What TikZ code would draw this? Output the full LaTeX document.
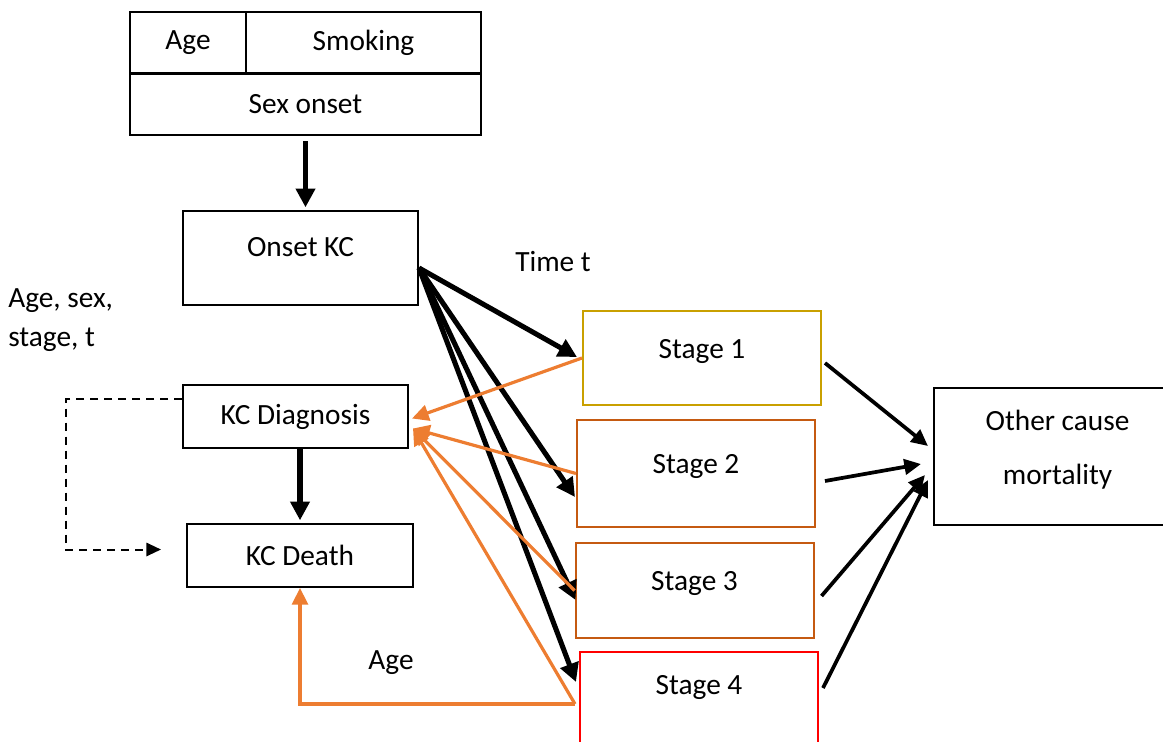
\documentclass[tikz,border=0pt]{standalone}
\usepackage{fontspec}
\setmainfont{Carlito}
\usetikzlibrary{arrows.meta, calc, positioning}
\definecolor{stagegold}{RGB}{201,160,0}
\definecolor{stagebrown}{RGB}{197,90,17}
\definecolor{arroworange}{RGB}{237,125,49}

\begin{document}
\begin{tikzpicture}
    [x=0.75pt, y=-0.75pt, font=\fontsize{22}{26.4}\selectfont,
    plainbox/.style={rectangle, draw=black, line width=1.5pt, inner sep=0pt, align=center},
    stagebox/.style={plainbox, minimum width=178.5pt, text height=15pt, text depth=15pt},
    bigarrow/.style={line width=3.8pt, -{Triangle[length=14pt, width=14pt]}},
    thinarrow/.style={line width=2.8pt, -{Triangle[length=12.5pt, width=11.5pt]}},
    orangearrow/.style={draw=arroworange, line width=2.4pt, -{Triangle[length=12.5pt, width=12pt]}},
    dashedarrow/.style={dash pattern=on 6pt off 4.5pt, line width=1.5pt, -{Triangle[length=11pt, width=10pt]}}]
    \useasboundingbox (0,0) rectangle (1163,742);

    % risk factors
    \node[plainbox, minimum width=87pt, minimum height=46.5pt]       (age)      at (188,43)    {Age};
    \node[plainbox, minimum width=176.25pt, minimum height=46.5pt]   (smoking)  at (363.5,43)  {Smoking};
    \node[plainbox, minimum width=263.25pt, minimum height=46.5pt]   (sexonset) at (305.5,104) {Sex onset};

    \node[plainbox, minimum width=176.25pt, minimum height=70.5pt, text height=15pt, text depth=17pt]
        (onsetkc) at (300.5,258) {Onset KC};
    \node[plainbox, minimum width=168.75pt, minimum height=47.25pt]  (kcdiag)   at (295.5,416.5) {KC Diagnosis};
    \node[plainbox, minimum width=169.5pt, minimum height=47.25pt]   (kcdeath)  at (300,555.5)   {KC Death};

    % stages
    \node[stagebox, draw=stagegold, minimum height=70.5pt]   (stage1) at (702,358)   {Stage 1};
    \node[stagebox, draw=stagebrown, minimum height=80.25pt] (stage2) at (696,473.5) {Stage 2};
    \node[stagebox, draw=stagebrown, minimum height=71.25pt] (stage3) at (694.5,590.5) {Stage 3};
    \node[stagebox, draw=red, minimum height=75pt, text depth=27pt] (stage4) at (699,702) {Stage 4};

    \node[plainbox, minimum width=185.25pt, minimum height=102.75pt, anchor=west]
        (other) at (933,456.5) {Other cause\\[14pt]mortality\\[-12.9pt]\mbox{}};

    % labels
    \node (timet)  at (553,262) {Time t};
    \node[anchor=west, align=left, inner sep=0pt] (covars) at (8,320) {Age, sex,\\[3pt]stage, t};
    \node (agelbl) at (391,663) {Age};

    % black arrows
    \draw[bigarrow, shorten <=4pt, shorten >=2pt] (sexonset.south) -- (sexonset.south |- onsetkc.north);
    \draw[bigarrow, shorten >=2pt] (kcdeath.north |- kcdiag.south) -- (kcdeath.north);
    \coordinate (fan) at ($(onsetkc.east)+(0,10)$);
    \foreach \s/\dx/\dy in {stage1/-5/-1, stage2/-1/23.5, stage3/1/9.5, stage4/-3/-20}
        \draw[bigarrow] (fan) -- ($(\s.west)+(\dx,\dy)$);

    % orange arrows
    \draw[orangearrow] (stage1.west) -- ($(kcdiag.east)+(3,2)$);
    \draw[orangearrow] (stage2.west) -- ($(kcdiag.east)+(4,12)$);
    \draw[orangearrow] (stage3.west) -- ($(kcdiag.east)+(4,12)$);
    \draw[orangearrow] ($(stage4.west)+(-4,2)$) -- ($(kcdiag.east)+(4,12)$);
    \draw[orangearrow] ($(stage4.west)+(-4,2)$) -| (kcdeath.south);

    % other cause
    \draw[thinarrow] ($(stage1.east)+(3,5)$)   -- ($(other.west)+(-5,-10.5)$);
    \draw[thinarrow] ($(stage2.east)+(9,7.5)$) -- ($(other.west)+(-12,7.5)$);
    \draw[thinarrow] ($(stage3.east)+(7,5.5)$) -- ($(other.west)+(-8,18.5)$);
    \draw[thinarrow] ($(stage4.east)+(4,-14)$) -- ($(other.west)+(-5,23.5)$);

    % dashed
    \draw[dashedarrow] ($(kcdiag.west)+(0,-18)$) -- ++(-116,0) |- ($(kcdeath.west)+(-25,-6)$);
\end{tikzpicture}
\end{document}
